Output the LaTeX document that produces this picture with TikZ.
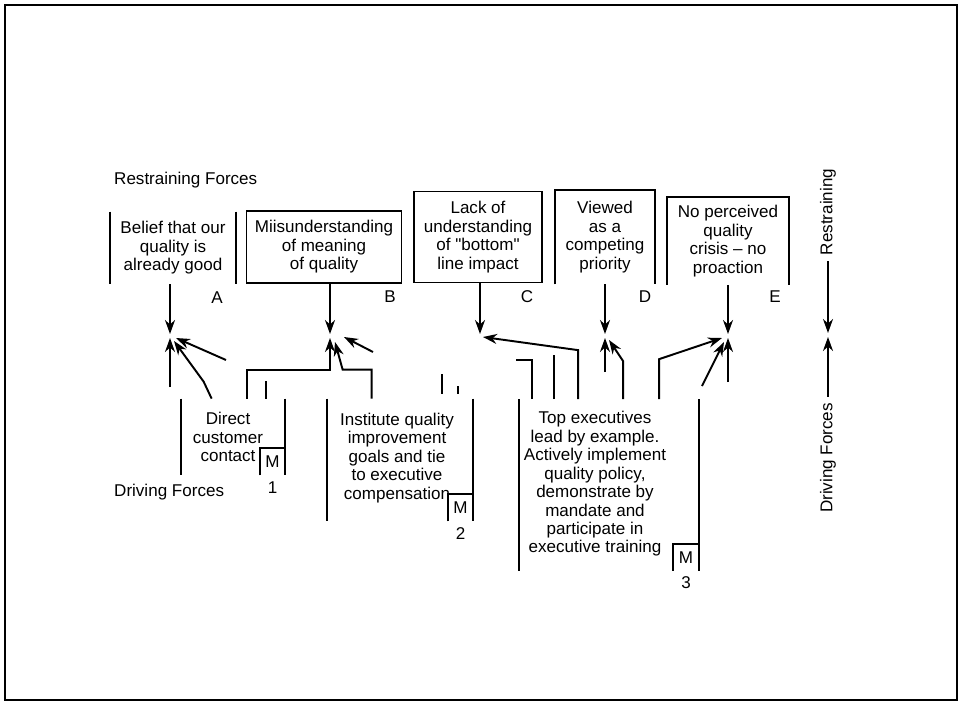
\documentclass[tikz,border=0pt]{standalone}
\usepackage{fontspec}
\setmainfont{Liberation Sans}
\usetikzlibrary{arrows.meta,calc,positioning}

\begin{document}
\begin{tikzpicture}[x=0.02cm,y=-0.02cm,
    font=\fontsize{9.7}{10.5}\selectfont,
    >={Stealth[length=2.8mm,width=2mm]},
    force/.style={->,line width=1.1pt},
    frame/.style={inner sep=0pt,line width=1pt},
    txt/.style={align=center,inner sep=0pt},
    mbox/.style={minimum width=0.5cm,minimum height=0.53cm,inner sep=0pt}]

    \useasboundingbox (0,0) rectangle (961,710);
    \draw[line width=1pt] (5,5) rectangle (957,700);

    \node[anchor=west] (restrain) at (108,180) {Restraining Forces};
    \node[anchor=west] (driving) at (108,492) {Driving Forces};

    % restraining forces
    \node[frame,align=center,minimum width=2.48cm,minimum height=1.42cm] (a) at (173,248) {Belief that our\\quality is\\already good};
    \node[frame,draw,align=center,minimum width=3.1cm,minimum height=1.44cm] (b) at (324,247) {Miisunderstanding\\of meaning\\of quality};
    \node[frame,draw,align=center,minimum width=2.56cm,minimum height=1.82cm] (c) at (478,237) {Lack of\\understanding\\of \textquotedbl bottom\textquotedbl\\line impact};
    \node[frame,align=center,minimum width=1.96cm,minimum height=1.86cm] (d) at (605,237) {Viewed\\as a\\competing\\priority};
    \node[frame,align=center,minimum width=2.4cm,minimum height=1.72cm] (e) at (728,241) {No perceived\\quality\\crisis -- no\\proaction};

    \draw[frame] (a.north west) -- (a.south west) (a.north east) -- (a.south east);
    \draw[frame] (d.south west) -- (d.north west) -- (d.north east) -- (d.south east);
    \draw[frame] (e.south west) -- (e.north west) -- (e.north east) -- (e.south east);

    \node (la) at (217,298) {A};
    \node (lb) at (390,297) {B};
    \node (lc) at (527,297) {C};
    \node (ld) at (645,297) {D};
    \node (le) at (775,297) {E};

    \coordinate (ma) at (170,336);
    \coordinate (mb) at (330,336);
    \coordinate (mc) at (480,336);
    \coordinate (md) at (605,336);
    \coordinate (me) at (728,336);

    \foreach \f in {a,b,c,d,e}
        \draw[force] (\f.south -| m\f) -- ($(m\f)+(0,-2)$);

    % driving forces
    \node[frame,minimum width=2.06cm,minimum height=1.5cm] (n1) at (233,437) {};
    \node[txt] (t1) at (228,437) {Direct\\customer\\contact};
    \node[frame,minimum width=2.9cm,minimum height=2.42cm] (n2) at (400,460) {};
    \node[txt] (t2) at (397,458) {Institute quality\\improvement\\goals and tie\\to executive\\compensation};
    \node[frame,minimum width=3.56cm,minimum height=3.4cm] (n3) at (609,485) {};
    \node[txt] (t3) at (595,484) {Top executives\\lead by example.\\Actively implement\\quality policy,\\demonstrate by\\mandate and\\participate in\\executive training};

    \foreach \n in {1,2,3} {
        \draw[frame] (n\n.north west) -- (n\n.south west) (n\n.north east) -- (n\n.south east);
        \node[mbox,anchor=south east] (m\n) at (n\n.south east) {M};
        \draw[frame] (m\n.south west) |- (m\n.north east);
        \node[below=0pt of m\n] (k\n) {\n};
    }

    \coordinate (fa1) at (170,387);
    \coordinate (fa2) at (226,360);
    \coordinate (fb1) at (373,352);
    \coordinate (fd1) at (605,372);
    \coordinate (fe1) at (702,386);
    \coordinate (fe2) at (728,382);

    \draw[force] (fa1) -- ($(ma)+(0,2)$);
    \draw[force] ($(n1.north west)+(31,0)$) -- ++(-8,-17) -- ($(ma)+(4,5)$);
    \draw[force] (fa2) -- ($(ma)+(6,2)$);

    \draw[force] ($(n1.north west)+(66,0)$) |- ($(mb)+(0,34)$) -- ($(mb)+(0,2)$);
    \draw[force] ($(n2.north west)+(45,0)$) -- ++(0,-29) -- ++(-29,0) -- ($(mb)+(5,6)$);
    \draw[force] (fb1) -- ($(mb)+(14,1)$);

    \draw[force] ($(n3.north west)+(59,0)$) -- ++(0,-49) -- ($(mc)+(3,1)$);

    \draw[force] (fd1) -- ($(md)+(0,2)$);
    \draw[force] ($(n3.north west)+(104,0)$) -- ++(0,-38) -- ($(md)+(4,4)$);

    \draw[force] ($(n3.north west)+(140,0)$) -- ++(0,-40) -- ($(me)+(-6,2)$);
    \draw[force] (fe1) -- ($(me)+(-4,6)$);
    \draw[force] (fe2) -- ($(me)+(0,2)$);

    % broken line pieces
    \draw[frame] ($(n1.north west)+(85,0)$) -- ++(0,-18);
    \draw[frame] ($(n2.north west)+(115,-5)$) -- ++(0,-20);
    \draw[frame] ($(n2.north west)+(131,-5)$) -- ++(0,-8);
    \draw[frame] ($(n3.north west)+(13,0)$) |- ++(-16,-39);
    \draw[frame] ($(n3.north west)+(35,0)$) -- ++(0,-44);

    % legend
    \node[rotate=90] (rlab) at (828,212) {Restraining};
    \node[rotate=90] (dlab) at (828,458) {Driving Forces};
    \coordinate (mid) at (828,335);
    \draw[force] (rlab.west) -- ($(mid)+(0,-2)$);
    \draw[force] (dlab.east) -- ($(mid)+(0,2)$);

\end{tikzpicture}
\end{document}
